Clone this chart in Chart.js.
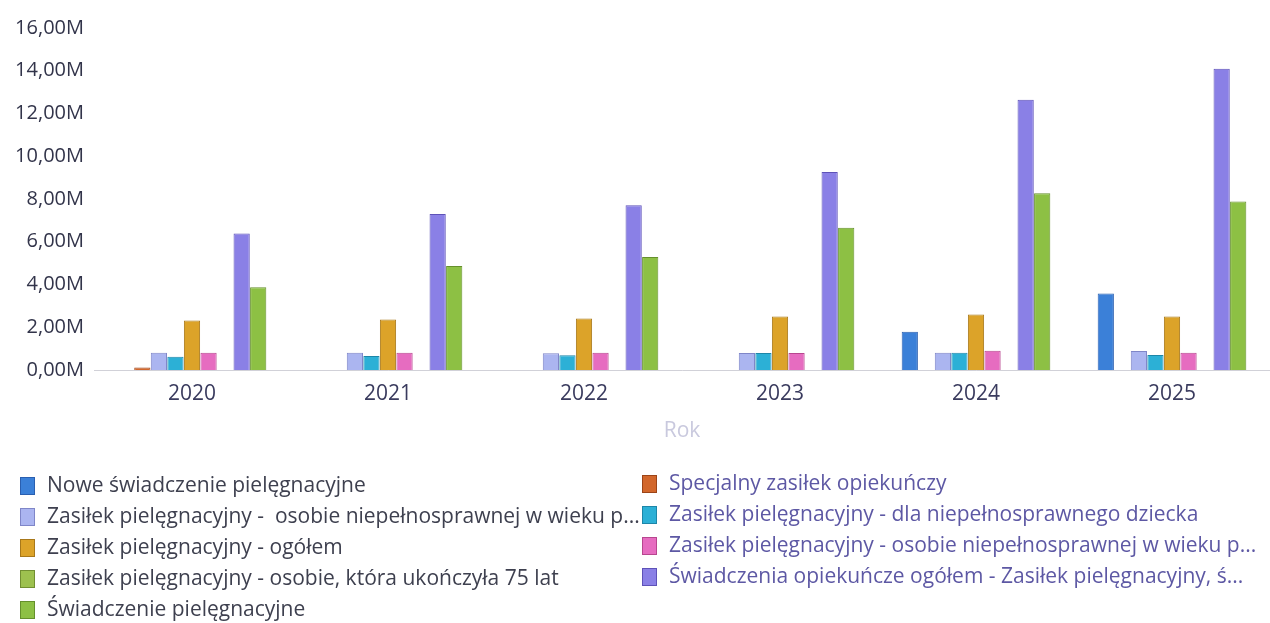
<!DOCTYPE html>
<html>
<head>
<meta charset="utf-8">
<script src="https://cdn.jsdelivr.net/npm/chart.js@4/dist/chart.umd.min.js"></script>
<style>
  html, body { margin: 0; padding: 0; background: #ffffff; }
  #wrap { width: 1270px; height: 623px; position: relative; }
</style>
</head>
<body>
<div id="wrap"><canvas id="chart"></canvas></div>
<script>
// Years on the category axis
const years = ['2020', '2021', '2022', '2023', '2024', '2025'];

// Series names (as shown in the legend)
const seriesNames = [
  'Nowe świadczenie pielęgnacyjne',
  'Specjalny zasiłek opiekuńczy',
  'Zasiłek pielęgnacyjny -  osobie niepełnosprawnej w wieku p...',
  'Zasiłek pielęgnacyjny - dla niepełnosprawnego dziecka',
  'Zasiłek pielęgnacyjny - ogółem',
  'Zasiłek pielęgnacyjny - osobie niepełnosprawnej w wieku p...',
  'Zasiłek pielęgnacyjny - osobie, która ukończyła 75 lat',
  'Świadczenia opiekuńcze ogółem - Zasiłek pielęgnacyjny, ś...',
  'Świadczenie pielęgnacyjne'
];

// Values in millions, one array per series
const noweSwiadczenie   = [0.00, 0.00, 0.00, 0.00, 1.79, 3.58];
const specjalnyZasilek  = [0.12, 0.00, 0.00, 0.00, 0.00, 0.00];
const zpWiekuPierwszy   = [0.81, 0.81, 0.78, 0.79, 0.81, 0.89];
const zpDziecko         = [0.62, 0.65, 0.69, 0.79, 0.81, 0.70];
const zpOgolem          = [2.32, 2.36, 2.41, 2.50, 2.60, 2.50];
const zpWiekuDrugi      = [0.81, 0.81, 0.81, 0.79, 0.90, 0.81];
const zp75Lat           = [0.00, 0.00, 0.00, 0.00, 0.00, 0.00];
const opiekunczeOgolem  = [6.39, 7.30, 7.71, 9.26, 12.64, 14.09];
const swiadczeniePiel   = [3.87, 4.87, 5.29, 6.66, 8.27, 7.88];

// Value axis ticks (millions)
const yTickValues = [0, 2, 4, 6, 8, 10, 12, 14, 16];

const seriesValues = [
  noweSwiadczenie, specjalnyZasilek, zpWiekuPierwszy, zpDziecko,
  zpOgolem, zpWiekuDrugi, zp75Lat, opiekunczeOgolem, swiadczeniePiel
];

const fills = ['#3b80d8', '#d2672c', '#abb5f0', '#2cb0d6', '#dca329', '#e66cc0', '#9dc14f', '#8a80e6', '#8dc044'];
const edges = ['#2a5fb0', '#9c4418', '#7f86c8', '#1d86a8', '#a8781a', '#b8468f', '#718f32', '#5e52b8', '#65902c'];

const datasets = seriesNames.map((name, i) => ({
  label: name,
  data: seriesValues[i],
  backgroundColor: fills[i],
  borderColor: edges[i],
  borderWidth: 1,
  categoryPercentage: 0.76,
  barPercentage: 0.98
}));

const FONT = "'Open Sans', 'Noto Sans', sans-serif";

// Two-column legend drawn under the axis title
const twoColumnLegend = {
  id: 'twoColumnLegend',
  afterDraw(chart) {
    const ctx = chart.ctx;
    const colX = [20, 642];
    const textColors = ['#3e404f', '#5d58a4'];
    ctx.save();
    ctx.font = '21px ' + FONT;
    ctx.textBaseline = 'middle';
    chart.data.datasets.forEach((ds, i) => {
      const col = i % 2;
      const row = Math.floor(i / 2);
      const x = colX[col];
      const y = 486 + row * 31 - col * 2;
      ctx.fillStyle = ds.backgroundColor;
      ctx.fillRect(x, y - 9, 15, 18);
      ctx.strokeStyle = ds.borderColor;
      ctx.lineWidth = 1;
      ctx.strokeRect(x + 0.5, y - 8.5, 14, 17);
      ctx.fillStyle = textColors[col];
      ctx.fillText(ds.label, x + 27, y);
    });
    ctx.restore();
  }
};

new Chart(document.getElementById('chart'), {
  type: 'bar',
  data: { labels: years, datasets },
  plugins: [twoColumnLegend],
  options: {
    responsive: true,
    maintainAspectRatio: false,
    animation: false,
    layout: { padding: { top: 28, right: 0, bottom: 179, left: 0 } },
    plugins: {
      legend: { display: false },
      tooltip: { enabled: false }
    },
    scales: {
      x: {
        grid: { display: false, drawTicks: false },
        border: { display: true, color: 'rgba(190,190,200,0.7)', dash: [1, 4] },
        ticks: { color: '#3a3b5e', font: { family: FONT, size: 21 }, padding: 11 },
        title: { display: true, text: 'Rok', color: '#c9c9de', font: { family: FONT, size: 21 }, padding: { top: 4, bottom: 0 } },
        afterFit(scale) { scale.height = 74; }
      },
      y: {
        min: 0,
        max: 16,
        afterBuildTicks(scale) { scale.ticks = yTickValues.map(v => ({ value: v })); },
        grid: { display: false, drawTicks: false },
        border: { display: false },
        ticks: {
          color: '#32344a',
          font: { family: FONT, size: 20 },
          padding: 10,
          callback: v => v.toFixed(2).replace('.', ',') + 'M'
        },
        afterFit(scale) { scale.width = 94; }
      }
    }
  }
});
</script>
</body>
</html>
